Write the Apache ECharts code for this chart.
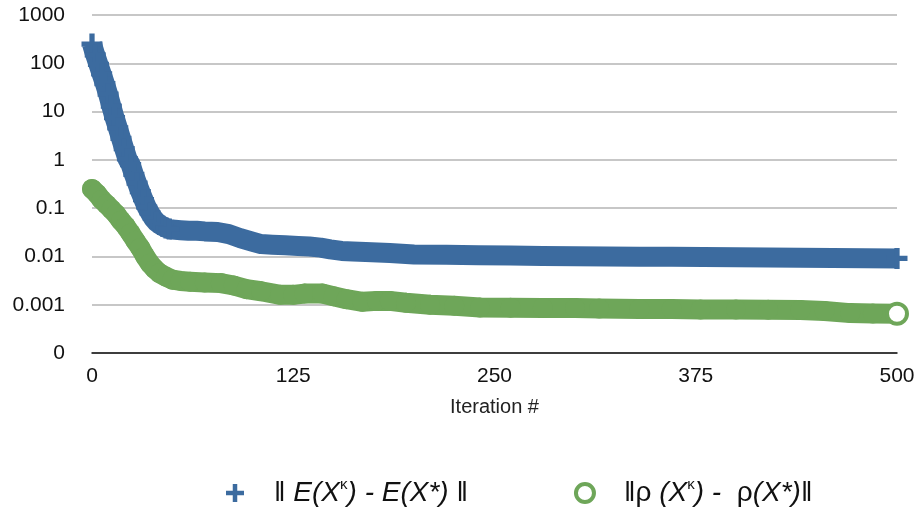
<!DOCTYPE html>
<html>
<head>
<meta charset="utf-8">
<script src="https://cdn.jsdelivr.net/npm/echarts@6/dist/echarts.min.js"></script>
<style>
  html, body { margin: 0; padding: 0; background: #fff; }
  #main { width: 920px; height: 507px; }
</style>
</head>
<body>
<div id="main"></div>
<script>
// iterations and values
var iterE = [0, 2, 4, 6, 8, 10, 12, 14, 16, 18, 20, 22, 24, 26, 28, 30, 32, 34, 36, 38, 40, 42, 44, 46, 48, 50,
  55, 60, 65, 70, 78, 85, 92, 100, 105, 112, 120, 128, 135, 142, 148, 155, 162, 170, 185, 200, 220, 240, 260,
  280, 300, 320, 340, 360, 380, 400, 420, 440, 460, 480, 500];
var errE = [250, 150, 95, 60, 38, 23, 13, 7.5, 4.6, 2.8, 1.7, 1.05, 0.8, 0.5, 0.33, 0.22, 0.15, 0.105, 0.08, 0.062,
  0.052, 0.046, 0.042, 0.039, 0.037, 0.036, 0.035, 0.034, 0.034, 0.033, 0.032, 0.029, 0.024, 0.02, 0.018, 0.0175,
  0.017, 0.0165, 0.016, 0.0152, 0.014, 0.013, 0.0127, 0.0124, 0.0118, 0.011, 0.0108, 0.0106, 0.0104,
  0.0102, 0.0101, 0.01, 0.0099, 0.0098, 0.0097, 0.0096, 0.0095, 0.0094, 0.0093, 0.0092, 0.0091];

var iterRho = [0, 3, 6, 9, 12, 15, 18, 21, 24, 27, 30, 33, 36, 39, 42, 46, 50, 55, 61, 70, 80, 88, 96, 105, 117,
  125, 132, 143, 150, 158, 168, 177, 185, 195, 210, 225, 241, 260, 280, 300, 315, 340, 360, 378, 400, 420, 440,
  455, 471, 485, 500];
var errRho = [0.25, 0.2, 0.15, 0.12, 0.095, 0.075, 0.055, 0.042, 0.03, 0.021, 0.015, 0.01, 0.0071, 0.0055, 0.0045,
  0.0038, 0.0033, 0.0031, 0.003, 0.0029, 0.0028, 0.0025, 0.0021, 0.0019, 0.0016,
  0.0016, 0.0017, 0.0017, 0.0015, 0.0013, 0.00115, 0.0012, 0.0012, 0.0011, 0.001, 0.00095, 0.00088, 0.00087,
  0.00086, 0.00085, 0.00083, 0.00082, 0.00082, 0.0008, 0.0008, 0.00079, 0.00078, 0.00074, 0.00067, 0.00066, 0.00065];

var xTicks = [0, 125, 250, 375, 500];
var yTickLabels = ['0', '0.001', '0.01', '0.1', '1', '10', '100', '1000'];

var blue = '#3c6b9f';
var green = '#6ea659';
var plusPath = 'path://M3,0H5V3H8V5H5V8H3V5H0V3H3Z';
var legendFont = 'Liberation Sans Narrow, Liberation Sans';

function pairs(xs, ys) {
  return xs.map(function (x, i) { return [x, ys[i]]; });
}

var rhoData = pairs(iterRho, errRho);
var last = rhoData.pop();
rhoData.push({
  value: last,
  itemStyle: { color: '#fff', borderColor: green, borderWidth: 4 }
});

var chart = echarts.init(document.getElementById('main'), null, { renderer: 'canvas' });

var option = {
  animation: false,
  grid: { left: 92, right: 23, top: 15, bottom: 154 },
  legend: {
    top: 472,
    left: 221,
    itemGap: 106,
    itemWidth: 18,
    itemHeight: 18,
    data: [
      { name: 'E', icon: plusPath, itemStyle: { color: blue } },
      { name: 'rho', icon: 'circle', itemStyle: { color: '#fff', borderColor: green, borderWidth: 4 } }
    ],
    formatter: function (name) {
      if (name === 'E') {
        return '{sp|}{n|‖ }{i|E(X}{s|κ}{i|) - E(X*) }{n|‖}';
      }
      return '{sp|}{n|‖}{n|ρ }{i|(X}{s|κ}{i|) -  }{n|ρ}{i|(X*)}{n|‖}';
    },
    textStyle: {
      fontFamily: legendFont,
      fontSize: 28,
      color: '#111',
      rich: {
        sp: { width: 25, lineHeight: 32 },
        n: { fontSize: 28, lineHeight: 32, fontFamily: legendFont, color: '#111' },
        i: { fontSize: 28, lineHeight: 32, fontStyle: 'italic', fontFamily: legendFont, color: '#111' },
        s: { fontSize: 15, lineHeight: 15, verticalAlign: 'top', fontFamily: legendFont, color: '#111' }
      }
    }
  },
  xAxis: {
    type: 'value',
    min: 0,
    max: 500,
    interval: 125,
    name: 'Iteration #',
    nameLocation: 'middle',
    nameGap: 44,
    nameTextStyle: { fontFamily: 'Liberation Sans', fontSize: 20, color: '#222' },
    axisLine: { show: true, lineStyle: { color: '#111', width: 1.5 } },
    axisTick: { show: false },
    splitLine: { show: false },
    axisLabel: {
      margin: 13,
      fontFamily: 'Liberation Sans',
      fontSize: 21,
      color: '#111',
      customValues: xTicks
    }
  },
  yAxis: {
    type: 'log',
    logBase: 10,
    min: 0.0001,
    max: 1000,
    splitNumber: 7,
    axisLine: { show: false },
    axisTick: { show: false },
    splitLine: { show: true, lineStyle: { color: '#b5b5b5', width: 1.5 } },
    axisLabel: {
      margin: 27,
      fontFamily: 'Liberation Sans',
      fontSize: 21,
      color: '#111',
      formatter: function (v) {
        var k = Math.round(Math.log(v) / Math.LN10) + 4;
        return yTickLabels[k] !== undefined ? yTickLabels[k] : '';
      }
    }
  },
  series: [
    {
      name: 'rho',
      type: 'line',
      data: rhoData,
      symbol: 'circle',
      symbolSize: 20,
      itemStyle: { color: green },
      lineStyle: { color: green, width: 20, join: 'round', cap: 'round' },
      z: 2
    },
    {
      name: 'E',
      type: 'line',
      data: pairs(iterE, errE),
      symbol: plusPath,
      // pluses stand out only on the steep start and at the last point
      symbolSize: function (v) { return (v[0] <= 48 || v[0] === 500) ? 21 : 0; },
      itemStyle: { color: blue },
      lineStyle: { color: blue, width: 20, join: 'round' },
      z: 3
    }
  ]
};

chart.setOption(option);
</script>
</body>
</html>
